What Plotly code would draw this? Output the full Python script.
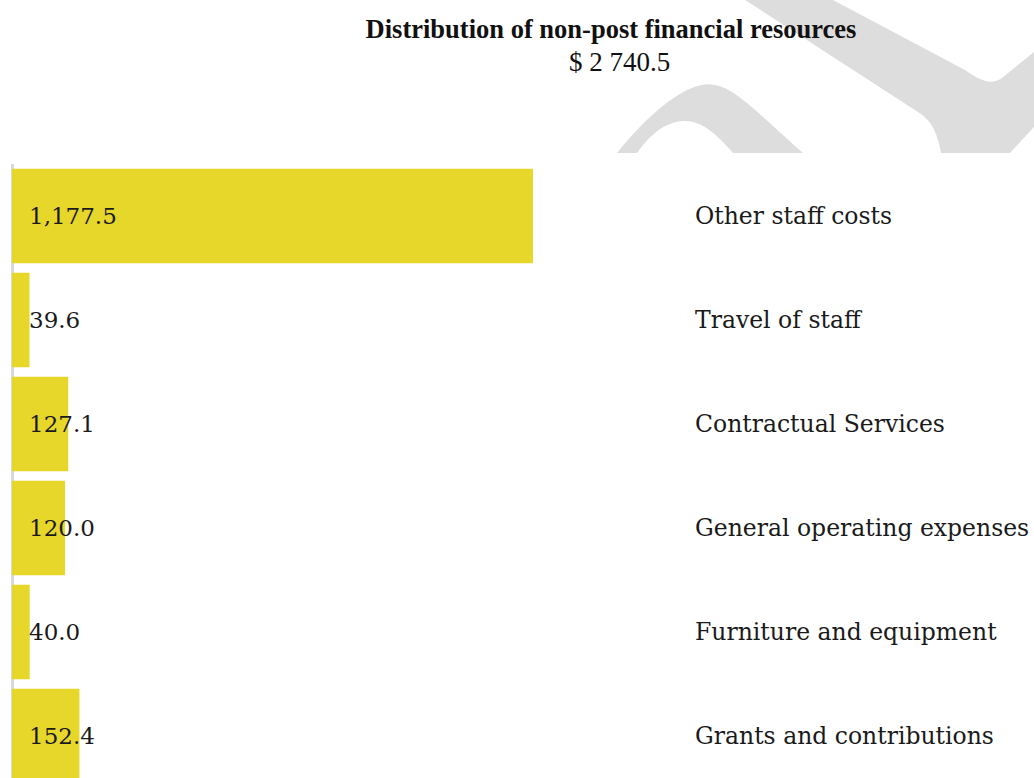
import plotly.graph_objects as go

#---------------------------------------------------------------------------------------

#data
categories = ["Other staff costs", "Travel of staff", "Contractual Services",
              "General operating expenses", "Furniture and equipment",
              "Grants and contributions"]
values = [1177.5, 39.6, 127.1, 120.0, 40.0, 152.4]
total_label = "$ 2 740.5"
chart_title = "Distribution of non-post financial resources"

#---------------------------------------------------------------------------------------

W, H = 1034, 778
L, R, T, B = 12, 340, 164, 0
bar_color = '#e7d72a'
serif = "DejaVu Serif"

# pixel -> paper helpers for the background watermark
def px(x):
    return (x - L) / (W - L - R)

def py(y):
    return (H - B - y) / (H - T - B)

def path(cmds):
    out = []
    for c in cmds:
        if isinstance(c, str):
            out.append(c)
        else:
            out.append(f"{px(c[0]):.4f},{py(c[1]):.4f}")
    return " ".join(out)

arch = path(["M", (617, 153), "C", (660, 100), (695, 80), (715, 85),
             "C", (735, 88), (760, 115), (803, 153), "L", (733, 153),
             "C", (715, 132), (700, 120), (683, 121),
             "C", (665, 122), (650, 135), (637, 153), "Z"])
hook = path(["M", (745, 0), "L", (833, 0), "L", (965, 70),
             "C", (980, 80), (990, 86), (1002, 78), "L", (1034, 52),
             "L", (1034, 127), "L", (1010, 153), "L", (941, 153),
             "C", (938, 135), (932, 120), (918, 112), "Z"])

#---------------------------------------------------------------------------------------

fig = go.Figure(data=go.Bar(x=values, y=categories, orientation='h',
                            marker_color=bar_color, marker_line_width=0,
                            hoverinfo='x+y'))

for cat, val in zip(categories, values):
    fig.add_annotation(x=0, y=cat, xref='x', yref='y', text=f"{val:,.1f}",
                       showarrow=False, xanchor='left', yanchor='middle', xshift=15,
                       font=dict(family=serif, size=23, color='#1a1a1a'))

fig.add_annotation(x=px(619), y=py(62), xref='paper', yref='paper', text=total_label,
                   showarrow=False, xanchor='center', yanchor='middle',
                   font=dict(family="Liberation Serif", size=27, color='#111111'))

# light grey watermark behind the header
for p in [arch, hook]:
    fig.add_shape(type='path', path=p, xref='paper', yref='paper',
                  fillcolor='#dddddd', line_width=0, layer='below')

fig.update_layout(
    width=W, height=H,
    margin=dict(l=L, r=R, t=T, b=B, pad=0),
    paper_bgcolor='white', plot_bgcolor='white',
    showlegend=False, bargap=0.09,
    title=dict(text=f"<b>{chart_title}</b>", x=611 / W, xanchor='center', xref='container',
               y=1 - 29 / H, yanchor='middle', yref='container',
               font=dict(family="Liberation Serif", size=26.5, color='#111111')),
)
fig.update_xaxes(range=[0, (W - L - R) * 1177.5 / 521], showticklabels=False, showgrid=False,
                 zeroline=True, zerolinecolor='#d9d9d9', zerolinewidth=3, showline=False)
fig.update_yaxes(type='category', range=[5.404, -0.5], side='right', showgrid=False,
                 showline=False, ticks='', zeroline=False,
                 tickfont=dict(family=serif, size=23.5, color='#1a1a1a'))

fig.write_html("out.html", config={'displayModeBar': False},
               post_script="document.body.style.margin='0';")
